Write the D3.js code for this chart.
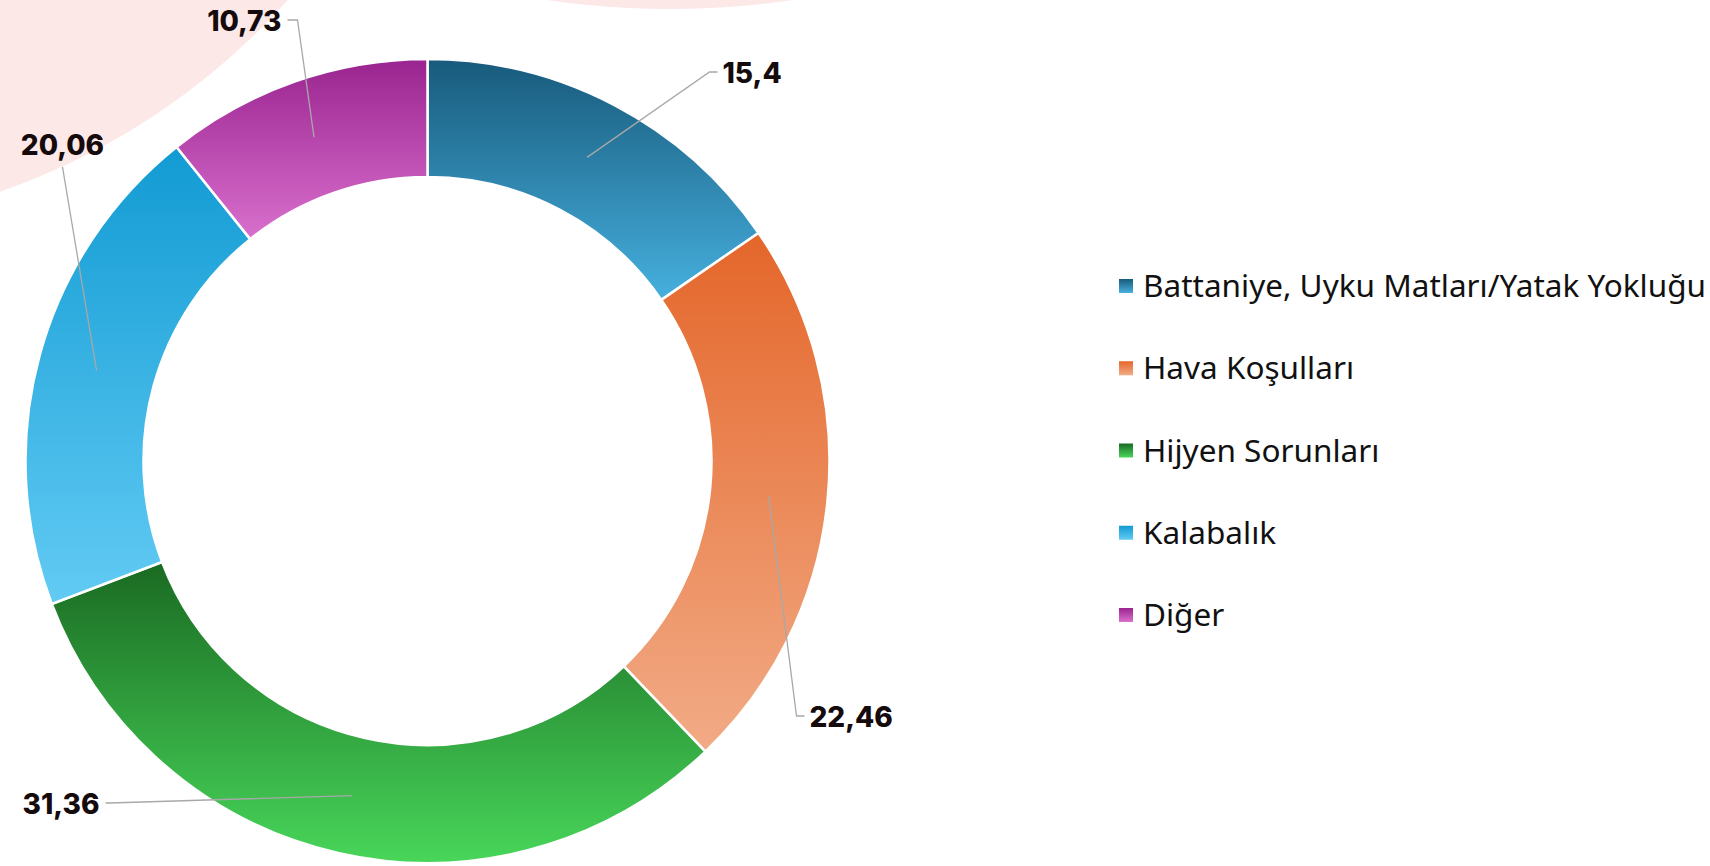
<!DOCTYPE html>
<html>
<head>
<meta charset="utf-8">
<script src="https://cdn.jsdelivr.net/npm/d3@7"></script>
<style>
    html, body {margin: 0; padding: 0; background: #fff; overflow: hidden;}
    svg {display: block;}
</style>
</head>
<body>
<div id="chart"></div>
<script>
// data
const categories = ['Battaniye, Uyku Matları/Yatak Yokluğu', 'Hava Koşulları', 'Hijyen Sorunları', 'Kalabalık', 'Diğer'];
const values = [15.4, 22.46, 31.36, 20.06, 10.73];
const valueLabels = ['15,4', '22,46', '31,36', '20,06', '10,73'];
const topColors = ['#185a7c', '#e4662a', '#1a6a22', '#129bd3', '#9a2490'];
const bottomColors = ['#46b0de', '#f2ab86', '#48d65a', '#62cbf4', '#d970cd'];

// where each value label sits, relative to the pie center
const labelLayout = [
    {dx: 282, dy: -389, elbow: 8, anchor: 'start'},
    {dx: 369, dy: 255, elbow: 8, anchor: 'start'},
    {dx: -318, dy: 342, elbow: -4, anchor: 'end'},
    {dx: -365, dy: -294, elbow: 0, anchor: 'middle'},
    {dx: -130, dy: -441, elbow: -10, anchor: 'end'}
];

const width = 1710, height = 866;
const cx = 427.5, cy = 461, outerR = 402, innerR = 284;

const svg = d3.select('#chart')
    .append('svg')
    .attr('width', width)
    .attr('height', height);

const defs = svg.append('defs');
categories.forEach(function (c, i) {
    const grad = defs.append('linearGradient')
        .attr('id', 'grad' + i)
        .attr('x1', 0).attr('y1', 0)
        .attr('x2', 0).attr('y2', 1);
    grad.append('stop').attr('offset', '0%').attr('stop-color', topColors[i]);
    grad.append('stop').attr('offset', '100%').attr('stop-color', bottomColors[i]);
});

//background blobs
svg.append('circle')
    .attr('cx', -223).attr('cy', -455).attr('r', 684)
    .attr('fill', '#fde8e8');
svg.append('circle')
    .attr('cx', 670).attr('cy', -836).attr('r', 845)
    .attr('fill', '#fde8e8');

const pie = d3.pie().sort(null).value(function (d) { return d; });
const arcs = pie(values);

const arc = d3.arc().innerRadius(innerR).outerRadius(outerR);
const midArc = d3.arc().innerRadius((innerR + outerR) / 2).outerRadius((innerR + outerR) / 2);

const g = svg.append('g')
    .attr('transform', 'translate(' + cx + ',' + cy + ')');

g.selectAll('path.slice')
    .data(arcs)
    .enter()
    .append('path')
    .attr('class', 'slice')
    .attr('d', arc)
    .attr('fill', function (d, i) { return 'url(#grad' + i + ')'; })
    .attr('stroke', '#fff')
    .attr('stroke-width', 2.5);

//leader lines
g.selectAll('path.leader')
    .data(arcs)
    .enter()
    .append('path')
    .attr('class', 'leader')
    .attr('fill', 'none')
    .attr('stroke', '#a8a8a8')
    .attr('stroke-width', 1.3)
    .attr('d', function (d, i) {
        const c = midArc.centroid(d);
        const l = labelLayout[i];
        return 'M' + c[0] + ',' + c[1] + 'L' + l.dx + ',' + l.dy + 'L' + (l.dx + l.elbow) + ',' + l.dy;
    });

//value labels
g.selectAll('text.value')
    .data(arcs)
    .enter()
    .append('text')
    .attr('class', 'value')
    .attr('x', function (d, i) {
        const l = labelLayout[i];
        if (l.anchor === 'start') return l.dx + l.elbow + 5;
        if (l.anchor === 'end') return l.dx + l.elbow - 6;
        return l.dx;
    })
    .attr('y', function (d, i) {
        const l = labelLayout[i];
        return l.anchor === 'middle' ? l.dy - 22 : l.dy + 1;
    })
    .attr('dy', '0.35em')
    .attr('text-anchor', function (d, i) { return labelLayout[i].anchor; })
    .attr('font-family', 'Inter, sans-serif')
    .attr('font-weight', 800)
    .attr('font-size', 28)
    .attr('fill', '#150a0c')
    .text(function (d, i) { return valueLabels[i]; });

//legend
const legend = svg.append('g')
    .attr('transform', 'translate(1119,286)');

const rowY = d3.scalePoint().domain(d3.range(categories.length)).range([0, 329]);

const item = legend.selectAll('g.item')
    .data(categories)
    .enter()
    .append('g')
    .attr('class', 'item')
    .attr('transform', function (d, i) { return 'translate(0,' + rowY(i) + ')'; });

item.append('rect')
    .attr('x', 0).attr('y', -7)
    .attr('width', 14).attr('height', 14)
    .attr('fill', function (d, i) { return 'url(#grad' + i + ')'; });

item.append('text')
    .attr('x', 24)
    .attr('y', 0)
    .attr('dy', '0.35em')
    .attr('font-family', '"Noto Sans", sans-serif')
    .attr('font-size', 31.5)
    .attr('fill', '#111')
    .text(function (d) { return d; });
</script>
</body>
</html>
